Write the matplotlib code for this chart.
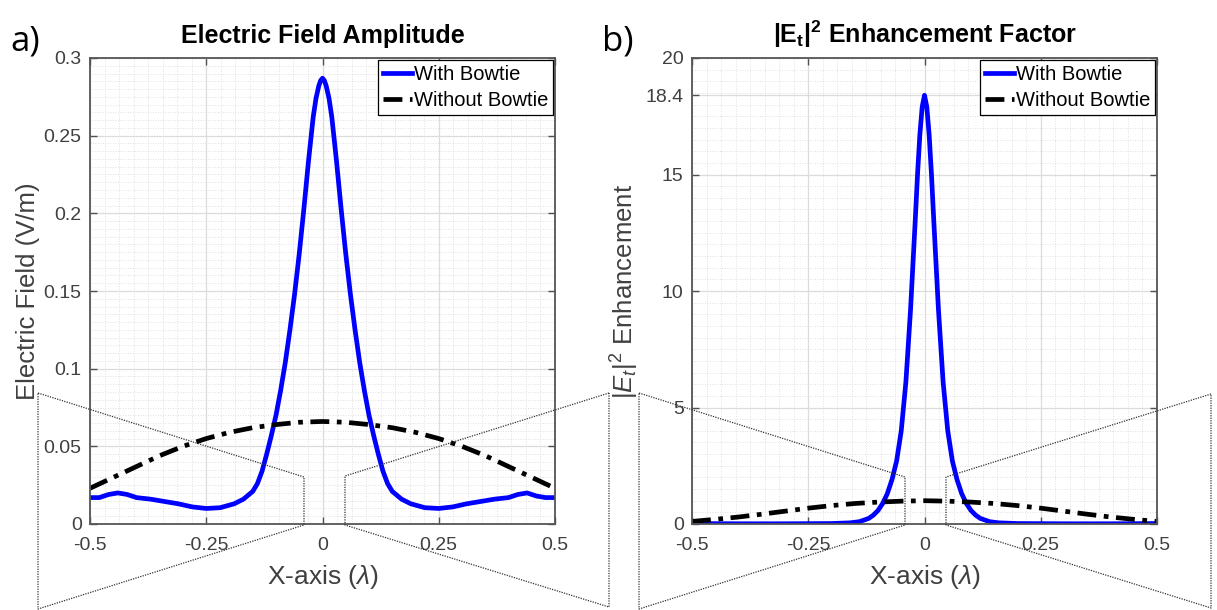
import matplotlib
matplotlib.use("Agg")
import matplotlib.pyplot as plt
from matplotlib.lines import Line2D
from matplotlib.ticker import MultipleLocator

plt.rcParams['font.family'] = ['Liberation Sans', 'DejaVu Sans']
plt.rcParams['mathtext.fontset'] = 'custom'
plt.rcParams['mathtext.rm'] = 'Liberation Sans'
plt.rcParams['mathtext.it'] = 'Liberation Sans:italic'
plt.rcParams['mathtext.bf'] = 'Liberation Sans:bold'

# ---------------- data ----------------
x_field_bowtie = [-0.5, -0.48, -0.46, -0.44, -0.42, -0.40, -0.37, -0.34, -0.31, -0.28,
                  -0.25, -0.22, -0.19, -0.17, -0.15, -0.14, -0.13, -0.12, -0.11, -0.10,
                  -0.09, -0.08, -0.07, -0.06, -0.05, -0.04, -0.03, -0.02, -0.014, -0.008,
                  -0.004, 0.0,
                  0.004, 0.008, 0.014, 0.02, 0.03, 0.04, 0.05, 0.06, 0.07, 0.08, 0.09, 0.10,
                  0.11, 0.12, 0.13, 0.14, 0.15, 0.17, 0.19, 0.22, 0.25, 0.28,
                  0.31, 0.34, 0.37, 0.40, 0.42, 0.44, 0.46, 0.48, 0.5]
e_field_bowtie = [0.017, 0.017, 0.019, 0.020, 0.019, 0.017, 0.016, 0.0145, 0.013, 0.011,
                  0.010, 0.0105, 0.013, 0.016, 0.021, 0.026, 0.034, 0.045, 0.057, 0.070,
                  0.086, 0.104, 0.125, 0.148, 0.174, 0.203, 0.234, 0.262, 0.274, 0.282,
                  0.2855, 0.287,
                  0.2855, 0.282, 0.274, 0.262, 0.234, 0.203, 0.174, 0.148, 0.125, 0.104,
                  0.086, 0.070,
                  0.057, 0.045, 0.034, 0.026, 0.021, 0.016, 0.013, 0.0105, 0.010, 0.011,
                  0.013, 0.0145, 0.016, 0.017, 0.019, 0.020, 0.018, 0.017, 0.017]

x_field_plain = [-0.5, -0.45, -0.4, -0.35, -0.3, -0.25, -0.2, -0.15, -0.1, -0.05, 0.0,
                 0.05, 0.1, 0.15, 0.2, 0.25, 0.3, 0.35, 0.4, 0.45, 0.5]
e_field_plain = [0.023, 0.030, 0.037, 0.044, 0.050, 0.055, 0.059, 0.062, 0.064, 0.0655, 0.066,
                 0.0655, 0.064, 0.062, 0.059, 0.055, 0.050, 0.044, 0.037, 0.030, 0.023]

x_enh_bowtie = [-0.5, -0.4, -0.3, -0.2, -0.16, -0.14, -0.12, -0.11, -0.10, -0.09, -0.08,
                -0.07, -0.06, -0.05, -0.04, -0.03, -0.02, -0.015, -0.01, -0.005, 0.0,
                0.005, 0.01, 0.015, 0.02, 0.03, 0.04, 0.05, 0.06, 0.07, 0.08, 0.09, 0.10,
                0.11, 0.12, 0.14, 0.16, 0.2, 0.3, 0.4, 0.5]
enh_bowtie = [0.02, 0.01, 0.01, 0.02, 0.05, 0.10, 0.24, 0.38, 0.58, 0.88, 1.3,
              1.9, 2.7, 4.0, 6.1, 9.2, 13.0, 15.0, 16.7, 17.9, 18.4,
              17.9, 16.7, 15.0, 13.0, 9.2, 6.1, 4.0, 2.7, 1.9, 1.3, 0.88, 0.58,
              0.38, 0.24, 0.10, 0.05, 0.02, 0.01, 0.01, 0.02]

x_enh_plain = x_field_plain
enh_plain = [0.11, 0.20, 0.30, 0.42, 0.55, 0.68, 0.79, 0.88, 0.94, 0.98, 1.0,
             0.98, 0.94, 0.88, 0.79, 0.68, 0.55, 0.42, 0.30, 0.20, 0.11]

x_ticks = [-0.5, -0.25, 0, 0.25, 0.5]
x_ticklabels = ['-0.5', '-0.25', '0', '0.25', '0.5']
y_ticks_a = [0, 0.05, 0.1, 0.15, 0.2, 0.25, 0.3]
y_ticklabels_a = ['0', '0.05', '0.1', '0.15', '0.2', '0.25', '0.3']
y_ticks_b = [0, 5, 10, 15, 18.4, 20]
y_ticklabels_b = ['0', '5', '10', '15', '18.4', '20']

legend_labels = ['With Bowtie', 'Without Bowtie']

# ---------------- figure ----------------
W, H = 1217, 610
fig = plt.figure(figsize=(W / 100, H / 100), dpi=100)

def fx(px):
    return px / W

def fy(py):
    return 1 - py / H

ax_a = fig.add_axes([fx(90), fy(524), fx(555) - fx(90), fy(58) - fy(524)])
ax_b = fig.add_axes([fx(692), fy(524), fx(1157) - fx(692), fy(58) - fy(524)])

dash_style = (0, (4, 1.6, 1, 1.6))
tick_col = '#404040'

def style_axes(ax, yticks, yticklabels, ymax, yminor):
    ax.set_xlim(-0.5, 0.5)
    ax.set_ylim(0, ymax)
    ax.set_xticks(x_ticks)
    ax.set_xticklabels(x_ticklabels)
    ax.set_yticks(yticks)
    ax.set_yticklabels(yticklabels)
    ax.xaxis.set_minor_locator(MultipleLocator(0.03125))
    ax.yaxis.set_minor_locator(MultipleLocator(yminor))
    ax.tick_params(which='major', direction='in', length=5, width=1,
                   top=True, right=True, labelsize=14, colors='#505050',
                   labelcolor=tick_col)
    ax.tick_params(axis='x', which='major', pad=9)
    ax.tick_params(axis='y', which='major', pad=6)
    ax.tick_params(which='minor', length=0)
    ax.grid(True, which='major', color='#dcdcdc', lw=0.9, ls='-')
    ax.grid(True, which='minor', color='#d6d6d6', lw=0.6, ls=(0, (1, 2)))
    ax.set_axisbelow(True)
    for s in ax.spines.values():
        s.set_color('#555555')
        s.set_linewidth(1.3)

# panel a
ax_a.plot(x_field_bowtie, e_field_bowtie, color='#0000ff', lw=3.4, label=legend_labels[0])
ax_a.plot(x_field_plain, e_field_plain, color='black', lw=3.4, ls=dash_style,
          label=legend_labels[1])
style_axes(ax_a, y_ticks_a, y_ticklabels_a, 0.3, 0.005)
ax_a.set_title('Electric Field Amplitude', fontsize=18, fontweight='bold', pad=11)
ax_a.set_xlabel(r'X-axis ($\lambda$)', fontsize=19, color='#404040', labelpad=7)
ax_a.set_ylabel('Electric Field (V/m)', fontsize=18.5, color='#404040', labelpad=3)

# panel b
ax_b.plot(x_enh_bowtie, enh_bowtie, color='#0000ff', lw=3.4, label=legend_labels[0])
ax_b.plot(x_enh_plain, enh_plain, color='black', lw=3.4, ls=dash_style,
          label=legend_labels[1])
style_axes(ax_b, y_ticks_b, y_ticklabels_b, 20, 0.5)
ax_b.set_title(r'$\mathbf{|E_t|^2}$ Enhancement Factor', fontsize=18,
               fontweight='bold', pad=11)
ax_b.set_xlabel(r'X-axis ($\lambda$)', fontsize=19, color='#404040', labelpad=7)
ax_b.set_ylabel(r'$|E_t|^2$ Enhancement', fontsize=18.5, color='#404040', labelpad=3)

for ax in (ax_a, ax_b):
    leg = ax.legend(loc='upper right', fontsize=14.5, frameon=True, fancybox=False,
                    framealpha=1, edgecolor='black', borderaxespad=0.1,
                    handlelength=1.4, handletextpad=0.1, borderpad=0.25,
                    labelspacing=0.35)
    leg.get_frame().set_linewidth(0.9)

# panel labels
fig.text(fx(10), fy(42), 'a)', fontsize=25, family=['Open Sans', 'DejaVu Sans'],
         va='center', ha='left')
fig.text(fx(602), fy(42), 'b)', fontsize=25, family=['Open Sans', 'DejaVu Sans'],
         va='center', ha='left')

# bowtie outlines (figure pixel coordinates)
bowtie_a = [
    [(38, 393), (304, 477), (304, 525), (38, 609), (38, 393)],
    [(609, 393), (345, 476), (345, 525), (609, 607), (609, 393)],
]
bowtie_b = [
    [(639, 393), (905, 477), (905, 525), (639, 609), (639, 393)],
    [(1211, 394), (946, 477), (946, 525), (1211, 608), (1211, 394)],
]
for poly in bowtie_a + bowtie_b:
    xs = [fx(p[0]) for p in poly]
    ys = [fy(p[1]) for p in poly]
    fig.add_artist(Line2D(xs, ys, transform=fig.transFigure, color='#333333',
                          lw=0.9, ls=(0, (1, 1)), zorder=1))

fig.savefig('out.png', dpi=100)
